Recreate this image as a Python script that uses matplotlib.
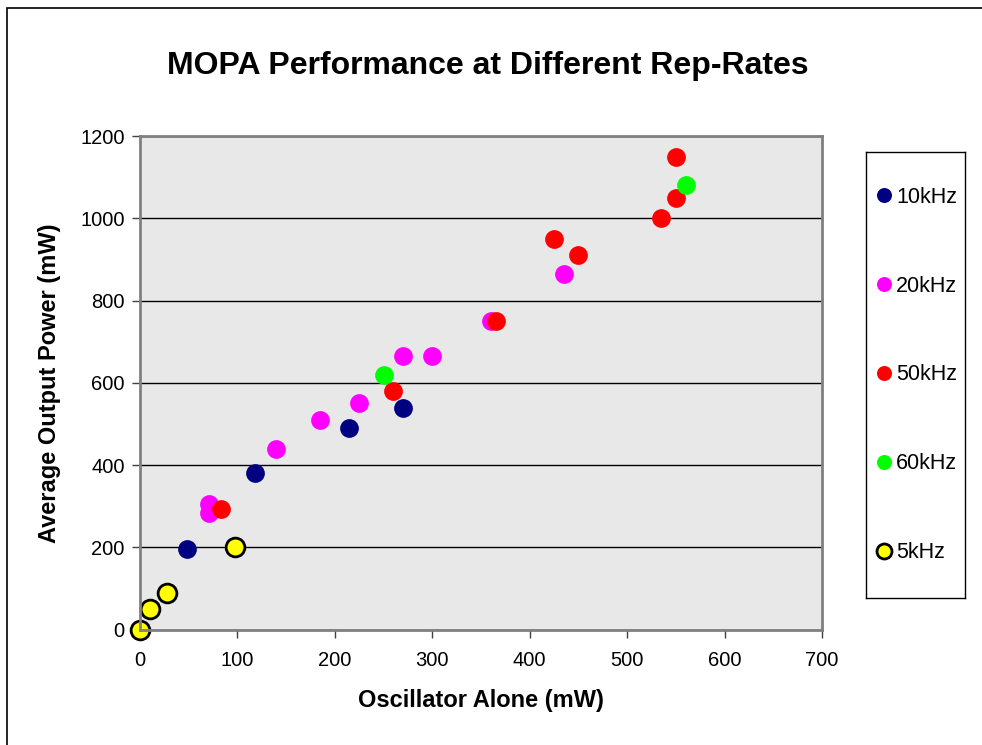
import matplotlib
matplotlib.use("Agg")
import matplotlib.pyplot as plt
from matplotlib.patches import Rectangle

plt.rcParams['font.family'] = ['Liberation Sans', 'DejaVu Sans']

# data (oscillator mW, output mW)
x_10k = [48, 118, 215, 270]
y_10k = [195, 380, 490, 540]

x_20k = [71, 71, 140, 185, 225, 270, 300, 360, 435]
y_20k = [305, 283, 440, 510, 550, 665, 665, 750, 865]

x_50k = [83, 260, 365, 425, 450, 535, 550, 550]
y_50k = [293, 580, 750, 950, 910, 1000, 1050, 1150]

x_60k = [250, 560]
y_60k = [620, 1080]

x_5k = [0, 10, 28, 98]
y_5k = [0, 50, 90, 200]

x_ticks = [0, 100, 200, 300, 400, 500, 600, 700]
y_ticks = [0, 200, 400, 600, 800, 1000, 1200]

W, H = 982, 745
fig = plt.figure(figsize=(W / 100, H / 100), dpi=100)
ax = fig.add_axes([140 / W, 1 - 629.7 / H, 682 / W, 493.7 / H])

# outer chart border (runs off the right and bottom edges)
fig.patches.append(Rectangle((7 / W, -0.1), 1.2, 1.1 - 8 / H,
                             transform=fig.transFigure, fill=False,
                             edgecolor='black', linewidth=1.2))

ax.set_facecolor('#e8e8e8')
for s in ax.spines.values():
    s.set_color('#808080')
    s.set_linewidth(2)

ax.set_xlim(0, 700)
ax.set_ylim(0, 1200)
ax.set_xticks(x_ticks)
ax.set_yticks(y_ticks)
ax.tick_params(direction='out', length=6, width=1, color='#404040',
               labelsize=14.5, pad=5)
ax.tick_params(axis='x', pad=9)
ax.yaxis.grid(True, color='black', linewidth=1)
ax.set_axisbelow(True)

ms = 13.5
ax.plot(x_10k, y_10k, 'o', color='#000080', ms=ms, mec='none', label='10kHz', clip_on=False)
ax.plot(x_20k, y_20k, 'o', color='#ff00ff', ms=ms, mec='none', label='20kHz', clip_on=False)
ax.plot(x_50k, y_50k, 'o', color='#ff0000', ms=ms, mec='none', label='50kHz', clip_on=False)
ax.plot(x_60k, y_60k, 'o', color='#00ff00', ms=ms, mec='none', label='60kHz', clip_on=False)
ax.plot(x_5k, y_5k, 'o', color='#ffff00', ms=ms, mec='black', mew=2, label='5kHz', clip_on=False)

fig.text(488 / W, 1 - 66 / H, 'MOPA Performance at Different Rep-Rates',
         fontsize=23, fontweight='bold', ha='center', va='center')
ax.set_xlabel('Oscillator Alone (mW)', fontsize=17, fontweight='bold', labelpad=14)
ax.set_ylabel('Average Output Power (mW)', fontsize=17, fontweight='bold', labelpad=14)

# legend in its own boxed area
lax = fig.add_axes([866 / W, 1 - 598 / H, 99 / W, 446 / H])
lax.set_xticks([])
lax.set_yticks([])
lax.set_facecolor('white')
for s in lax.spines.values():
    s.set_color('black')
    s.set_linewidth(1)
handles, labels = ax.get_legend_handles_labels()
leg = lax.legend(handles, labels, loc='center left', frameon=False,
                 fontsize=15.5, markerscale=0.8, handlelength=0.5,
                 handletextpad=0.3, labelspacing=3.15,
                 borderaxespad=0.3, borderpad=0.3)

fig.savefig('out.png', dpi=100)
